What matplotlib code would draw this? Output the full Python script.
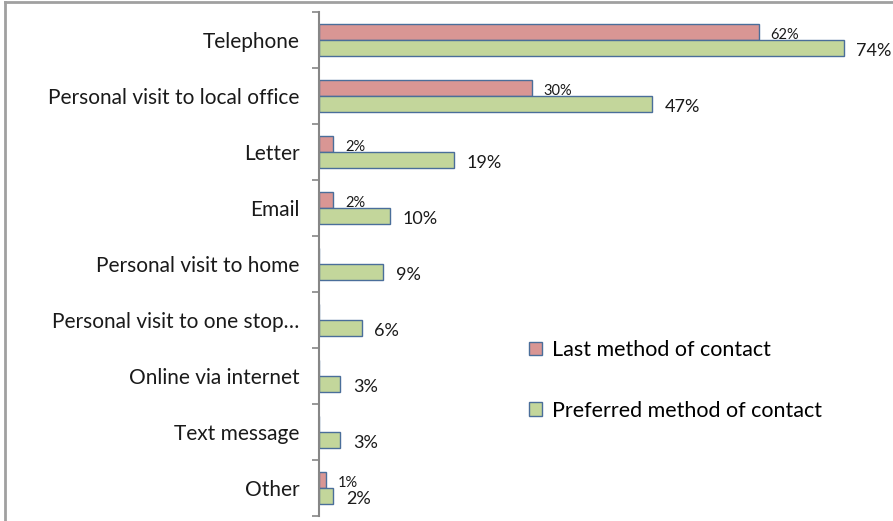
import matplotlib
matplotlib.use("Agg")
import matplotlib.pyplot as plt
from matplotlib.patches import Patch
import numpy as np

plt.rcParams['font.family'] = ['Lato', 'DejaVu Sans']

categories = ["Telephone", "Personal visit to local office", "Letter", "Email",
              "Personal visit to home", "Personal visit to one stop\u2026",
              "Online via internet", "Text message", "Other"]
last_method = [62, 30, 2, 2, None, None, None, None, 1]
preferred_method = [74, 47, 19, 10, 9, 6, 3, 3, 2]
series_names = ["Last method of contact", "Preferred method of contact"]

W, H = 893, 521
fig = plt.figure(figsize=(W / 100, H / 100), dpi=100)

# outer chart border
fig.add_artist(plt.Line2D([5 / W, 5 / W], [0, 1 - 1.5 / H], transform=fig.transFigure,
                          color="#a0a0a0", lw=2))
fig.add_artist(plt.Line2D([5 / W, 1], [1 - 1.5 / H, 1 - 1.5 / H], transform=fig.transFigure,
                          color="#a0a0a0", lw=2))

ax_left, ax_right = 319 / W, (319 + 80 * 7.09) / W
ax_top, ax_bot = 1 - 12 / H, 1 - 516 / H
ax = fig.add_axes([ax_left, ax_bot, ax_right - ax_left, ax_top - ax_bot])

red = "#D99694"
green = "#C3D69B"
edge = "#4A6E9A"

y = np.arange(len(categories))
h = 0.29
off = 0.145
last_vals = [v if v is not None else 0 for v in last_method]
ax.barh(y - off, last_vals, height=h, color=red, edgecolor=edge, linewidth=1.0)
ax.barh(y + off, preferred_method, height=h, color=green, edgecolor=edge, linewidth=1.0)

for yi, v in zip(y, last_method):
    if v is None:
        continue
    ax.text(v + 1.7, yi - off + 0.05, f"{v}%", va="center", ha="left", fontsize=10.5,
            color="#1a1a1a")
for yi, v in zip(y, preferred_method):
    ax.text(v + 1.8, yi + off + 0.05, f"{v}%", va="center", ha="left", fontsize=13,
            color="#1a1a1a")

ax.set_xlim(0, 80)
ax.set_ylim(len(categories) - 0.5, -0.5)
ax.set_yticks(y)
ax.set_yticklabels(categories, fontsize=15, color="#1a1a1a")
ax.set_yticks(np.arange(-0.5, len(categories), 1), minor=True)
ax.tick_params(axis="y", which="major", length=0, pad=14)
ax.tick_params(axis="y", which="minor", length=5, width=1.2, color="#868686")
ax.set_xticks([])
for s in ["top", "right", "bottom"]:
    ax.spines[s].set_visible(False)
ax.spines["left"].set_color("#868686")
ax.spines["left"].set_linewidth(1.5)

handles = [Patch(facecolor=red, edgecolor=edge, lw=1.0),
           Patch(facecolor=green, edgecolor=edge, lw=1.0)]
fig.legend(handles, series_names, loc="upper left",
           bbox_to_anchor=(529 / W, 1 - 340 / H), bbox_transform=fig.transFigure,
           frameon=False, fontsize=15.5, handlelength=0.6, handleheight=0.6,
           handletextpad=0.45, labelspacing=1.9, borderpad=0, borderaxespad=0)

fig.savefig("out.png", dpi=100)
